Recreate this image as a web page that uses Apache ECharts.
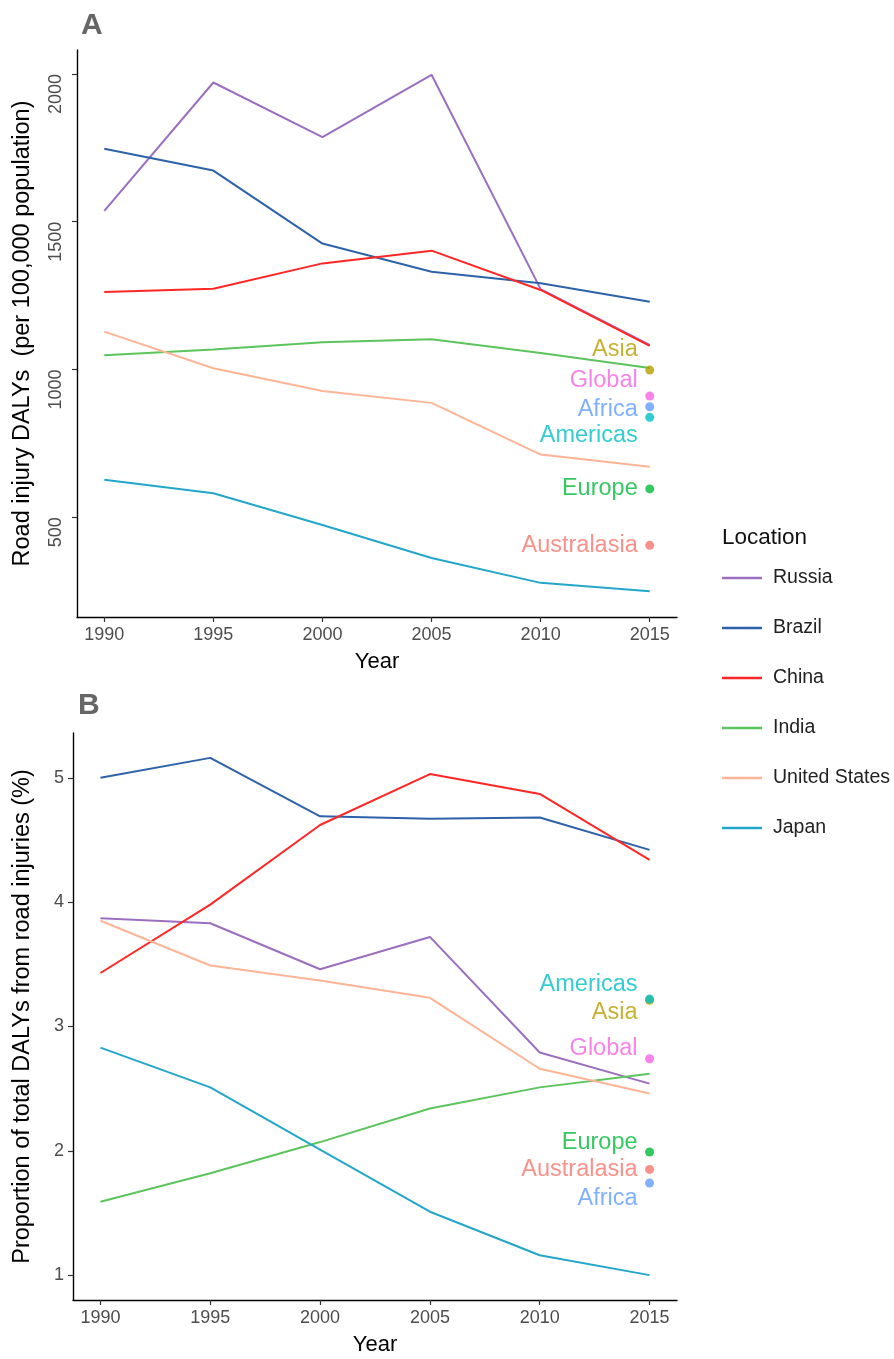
<!DOCTYPE html>
<html><head><meta charset="utf-8">
<script src="https://cdn.jsdelivr.net/npm/echarts@6/dist/echarts.min.js"></script>
<style>html,body{margin:0;padding:0;background:#fff}#c{width:894px;height:1359px}</style>
</head><body><div id="c"></div>
<script>
// ---- data ----
const years = [1990, 1995, 2000, 2005, 2010, 2015];
const countries = ['Russia', 'Brazil', 'China', 'India', 'United States', 'Japan'];
// Panel A: Road injury DALYs per 100,000
const russiaA = [1537, 1971, 1786, 1997, 1272, 1083];
const brazilA = [1747, 1673, 1426, 1331, 1292, 1229];
const chinaA  = [1262, 1273, 1359, 1402, 1269, 1080];
const indiaA  = [1048, 1068, 1092, 1102, 1056, 1005];
const usA     = [1128, 1004, 927, 887, 712, 671];
const japanA  = [627, 581, 474, 362, 278, 250];
// Panel B: proportion of total DALYs from road injuries (%)
const russiaB = [3.87, 3.83, 3.46, 3.72, 2.79, 2.54];
const brazilB = [5.00, 5.16, 4.69, 4.67, 4.68, 4.42];
const chinaB  = [3.43, 3.98, 4.62, 5.03, 4.87, 4.34];
const indiaB  = [1.59, 1.82, 2.07, 2.34, 2.51, 2.62];
const usB     = [3.85, 3.49, 3.37, 3.23, 2.66, 2.46];
const japanB  = [2.83, 2.51, 2.01, 1.51, 1.16, 1.00];
// Regional points (2015) and their label anchors (data units)
const regions = ['Asia', 'Global', 'Africa', 'Americas', 'Europe', 'Australasia'];
const regionYear = 2015;
const regionA = [998, 910, 874, 838, 596, 405];
const regionLabelA = [1069, 964, 863, 776, 596, 405];
const regionB = [3.21, 2.74, 1.74, 3.22, 1.99, 1.85];
const regionLabelB = [3.11, 2.82, 1.62, 3.34, 2.07, 1.85];
// ticks
const xTicks = [1990, 1995, 2000, 2005, 2010, 2015];
const yTicksA = [500, 1000, 1500, 2000];
const yTicksB = [1, 2, 3, 4, 5];

// ---- styles ----
const FONT = "'Liberation Sans', Arial, sans-serif";
const countryColors = ['#9b6fc0', '#2d62a9', '#ff2626', '#5cc45c', '#ffb496', '#22a6c9'];
const regionColors = ['#B79F00', '#F564E3', '#619CFF', '#00BFC4', '#00BA38', '#F8766D'];
const seriesA = [russiaA, brazilA, chinaA, indiaA, usA, japanA];
const seriesB = [russiaB, brazilB, chinaB, indiaB, usB, japanB];
const plain = v => String(v);

function xAxis(gridIndex) {
  return {
    type: 'value', gridIndex, min: 1988.75, max: 2016.25,
    name: 'Year', nameLocation: 'middle', nameGap: 34,
    nameTextStyle: { fontSize: 22, color: '#000', fontFamily: FONT },
    axisLine: { lineStyle: { color: '#000', width: 1.4 } },
    axisTick: { show: true, length: 5, customValues: xTicks, lineStyle: { color: '#333', width: 1.2 } },
    axisLabel: { customValues: xTicks, formatter: plain, fontSize: 18, color: '#4d4d4d', margin: 9, fontFamily: FONT },
    splitLine: { show: false }
  };
}

const series = [];
countries.forEach((c, i) => {
  series.push({
    name: c, type: 'line', xAxisIndex: 0, yAxisIndex: 0,
    data: years.map((y, j) => [y, seriesA[i][j]]),
    showSymbol: false, symbol: 'none', color: countryColors[i],
    lineStyle: { width: 2, color: countryColors[i] }, emphasis: { disabled: true }, z: 3
  });
  series.push({
    name: c, type: 'line', xAxisIndex: 1, yAxisIndex: 1,
    data: years.map((y, j) => [y, seriesB[i][j]]),
    showSymbol: false, symbol: 'none', color: countryColors[i],
    lineStyle: { width: 2, color: countryColors[i] }, emphasis: { disabled: true }, z: 3
  });
});

function pointSeries(idx, vals) {
  return {
    type: 'scatter', xAxisIndex: idx, yAxisIndex: idx, symbolSize: 9, z: 4,
    emphasis: { disabled: true }, silent: true,
    data: regions.map((r, i) => ({ name: r, value: [regionYear, vals[i]], itemStyle: { color: regionColors[i] } }))
  };
}
function labelSeries(idx, vals) {
  return {
    type: 'scatter', xAxisIndex: idx, yAxisIndex: idx, symbolSize: 0, z: 5,
    emphasis: { disabled: true }, silent: true,
    data: regions.map((r, i) => ({
      name: r, value: [regionYear, vals[i]],
      label: { show: true, position: 'left', distance: 12, formatter: r, color: regionColors[i], fontSize: 23.5, fontFamily: FONT }
    }))
  };
}
series.push(pointSeries(0, regionA), labelSeries(0, regionLabelA), pointSeries(1, regionB), labelSeries(1, regionLabelB));

const option = {
  animation: false,
  backgroundColor: '#fff',
  textStyle: { fontFamily: FONT },
  title: [
    { text: 'A', left: 76, top: 6, textStyle: { fontSize: 30, fontWeight: 'bold', color: '#666', fontFamily: FONT } },
    { text: 'B', left: 73, top: 686, textStyle: { fontSize: 30, fontWeight: 'bold', color: '#666', fontFamily: FONT } },
    { text: 'Location', left: 717, top: 521, textStyle: { fontSize: 22.5, fontWeight: 'normal', color: '#111', fontFamily: FONT } }
  ],
  legend: {
    data: countries, orient: 'vertical', left: 722, top: 568, padding: 0,
    icon: 'rect', itemWidth: 40, itemHeight: 2.5, itemGap: 30,
    textStyle: { fontSize: 19.5, lineHeight: 20, color: '#222', fontFamily: FONT, padding: [0, 0, 0, 6] },
    selectedMode: false
  },
  grid: [
    { left: 77, top: 50, width: 600, height: 567, containLabel: false },
    { left: 73, top: 733, width: 604, height: 567, containLabel: false }
  ],
  xAxis: [xAxis(0), xAxis(1)],
  yAxis: [
    {
      type: 'value', gridIndex: 0, min: 162.5, max: 2081,
      name: 'Road injury DALYs  (per 100,000 population)', nameLocation: 'middle', nameGap: 42,
      nameTextStyle: { fontSize: 23.5, color: '#000', fontFamily: FONT },
      axisLine: { show: true, lineStyle: { color: '#000', width: 1.4 } },
      axisTick: { show: true, length: 5, customValues: yTicksA, lineStyle: { color: '#333', width: 1.2 } },
      axisLabel: { customValues: yTicksA, formatter: plain, rotate: 90, align: 'right', verticalAlign: 'bottom', fontSize: 18, color: '#4d4d4d', margin: 12, fontFamily: FONT },
      splitLine: { show: false }
    },
    {
      type: 'value', gridIndex: 1, min: 0.8, max: 5.36,
      name: 'Proportion of total DALYs from road injuries (%)', nameLocation: 'middle', nameGap: 38,
      nameTextStyle: { fontSize: 23.5, color: '#000', fontFamily: FONT },
      axisLine: { show: true, lineStyle: { color: '#000', width: 1.4 } },
      axisTick: { show: true, length: 5, customValues: yTicksB, lineStyle: { color: '#333', width: 1.2 } },
      axisLabel: { customValues: yTicksB, formatter: plain, fontSize: 18, color: '#4d4d4d', margin: 9, fontFamily: FONT },
      splitLine: { show: false }
    }
  ],
  series
};
const chart = echarts.init(document.getElementById('c'), null, { renderer: 'canvas' });
chart.setOption(option);
</script>
</body></html>
